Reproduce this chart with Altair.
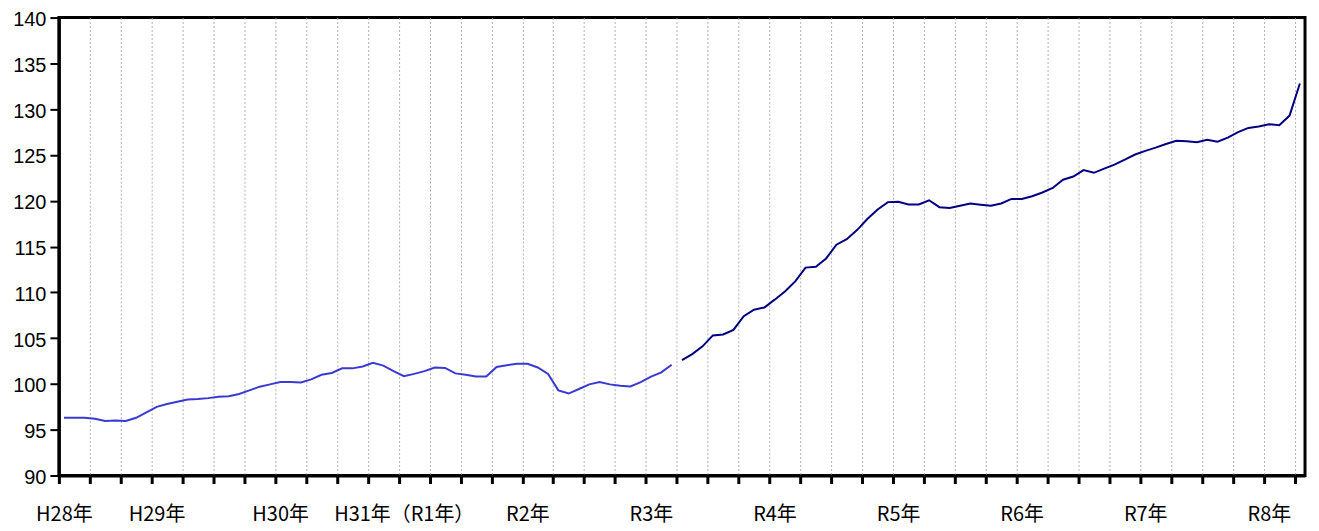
import altair as alt
import pandas as pd

# Monthly index values (H28年4月 = month 0)
series_a_values = [
    96.3, 96.3, 96.3, 96.2, 95.95, 96.0, 95.95, 96.3, 96.9, 97.5,
    97.8, 98.05, 98.3, 98.35, 98.45, 98.6, 98.65, 98.9, 99.3, 99.7,
    99.95, 100.2, 100.2, 100.15, 100.5, 101.0, 101.2, 101.7, 101.7, 101.9,
    102.3, 102.0, 101.4, 100.85, 101.1, 101.4, 101.8, 101.75, 101.15, 101.0,
    100.8, 100.8, 101.85, 102.05, 102.2, 102.2, 101.8, 101.1, 99.3, 98.95,
    99.45, 99.95, 100.2, 99.95, 99.8, 99.72, 100.2, 100.8, 101.26, 102.1,
]
series_b_values = [
    102.6, 103.25, 104.1, 105.3, 105.4, 105.9, 107.4, 108.1, 108.35, 109.2,
    110.1, 111.2, 112.7, 112.8, 113.7, 115.2, 115.8, 116.8, 118.0, 119.05,
    119.85, 119.9, 119.6, 119.6, 120.05, 119.3, 119.2, 119.45, 119.7, 119.57,
    119.45, 119.7, 120.2, 120.2, 120.5, 120.9, 121.4, 122.3, 122.65, 123.35,
    123.05, 123.5, 123.95, 124.5, 125.05, 125.45, 125.8, 126.2, 126.55, 126.5,
    126.4, 126.65, 126.45, 126.9, 127.5, 127.95, 128.1, 128.35, 128.25, 129.3,
    132.8,
]
series_names = ["A", "B"]
series_colors = ["#3a3ad2", "#000080"]

year_labels = ["H28年", "H29年", "H30年", "H31年（R1年）", "R2年", "R3年",
               "R4年", "R5年", "R6年", "R7年", "R8年"]
year_label_months = [0, 9, 21, 33, 45, 57, 69, 81, 93, 105, 117]
n_months = len(series_a_values) + len(series_b_values)
tick_step = 3
y_ticks = list(range(90, 145, 5))

rows = []
for i, v in enumerate(series_a_values):
    rows.append({"month": i, "value": v, "series": series_names[0]})
off = len(series_a_values)
for j, v in enumerate(series_b_values):
    rows.append({"month": off + j, "value": v, "series": series_names[1]})
df = pd.DataFrame(rows)

tick_values = [k - 0.5 for k in range(0, n_months, tick_step)]

expr = "''"
for m, lab in reversed(list(zip(year_label_months, year_labels))):
    expr = f"abs(datum.value - {m - 0.5}) < 0.01 ? '{lab}' : ({expr})"

FONT = "Noto Sans CJK JP"
NUM_FONT = "Liberation Sans"

chart = alt.Chart(df).mark_line(strokeWidth=2).encode(
    x=alt.X(
        "month:Q",
        scale=alt.Scale(domain=[-0.5, n_months - 0.5], nice=False, zero=False),
        axis=alt.Axis(
            values=tick_values,
            labelExpr=expr,
            labelOffset=5,
            labelFont=FONT,
            labelFontSize=20,
            labelColor="black",
            labelPadding=21,
            labelOverlap=False,
            labelFlush=False,
            labelBound=False,
            tickSize=8,
            tickWidth=3,
            tickColor="black",
            domainColor="black",
            domainWidth=3,
            grid=True,
            gridDash=[2, 2],
            gridColor="#b0b0b0",
            gridWidth=1,
            title=None,
        ),
    ),
    y=alt.Y(
        "value:Q",
        scale=alt.Scale(domain=[90, 140], nice=False, zero=False),
        axis=alt.Axis(
            values=y_ticks,
            format="d",
            labelFont=NUM_FONT,
            labelFontSize=20,
            labelColor="black",
            labelPadding=4,
            labelOffset=2,
            tickSize=9,
            tickWidth=2,
            tickColor="black",
            domainColor="black",
            domainWidth=3,
            grid=False,
            title=None,
        ),
    ),
    color=alt.Color(
        "series:N",
        scale=alt.Scale(domain=series_names, range=series_colors),
        legend=None,
    ),
    detail="series:N",
).properties(
    width=1249,
    height=459,
    autosize=alt.AutoSizeParams(type="none"),
    padding={"left": 51, "top": 9, "right": 6, "bottom": 50},
).configure_view(
    stroke="black",
    strokeWidth=3,
)

chart.save("out.html", embed_options={"renderer": "svg", "actions": False})
